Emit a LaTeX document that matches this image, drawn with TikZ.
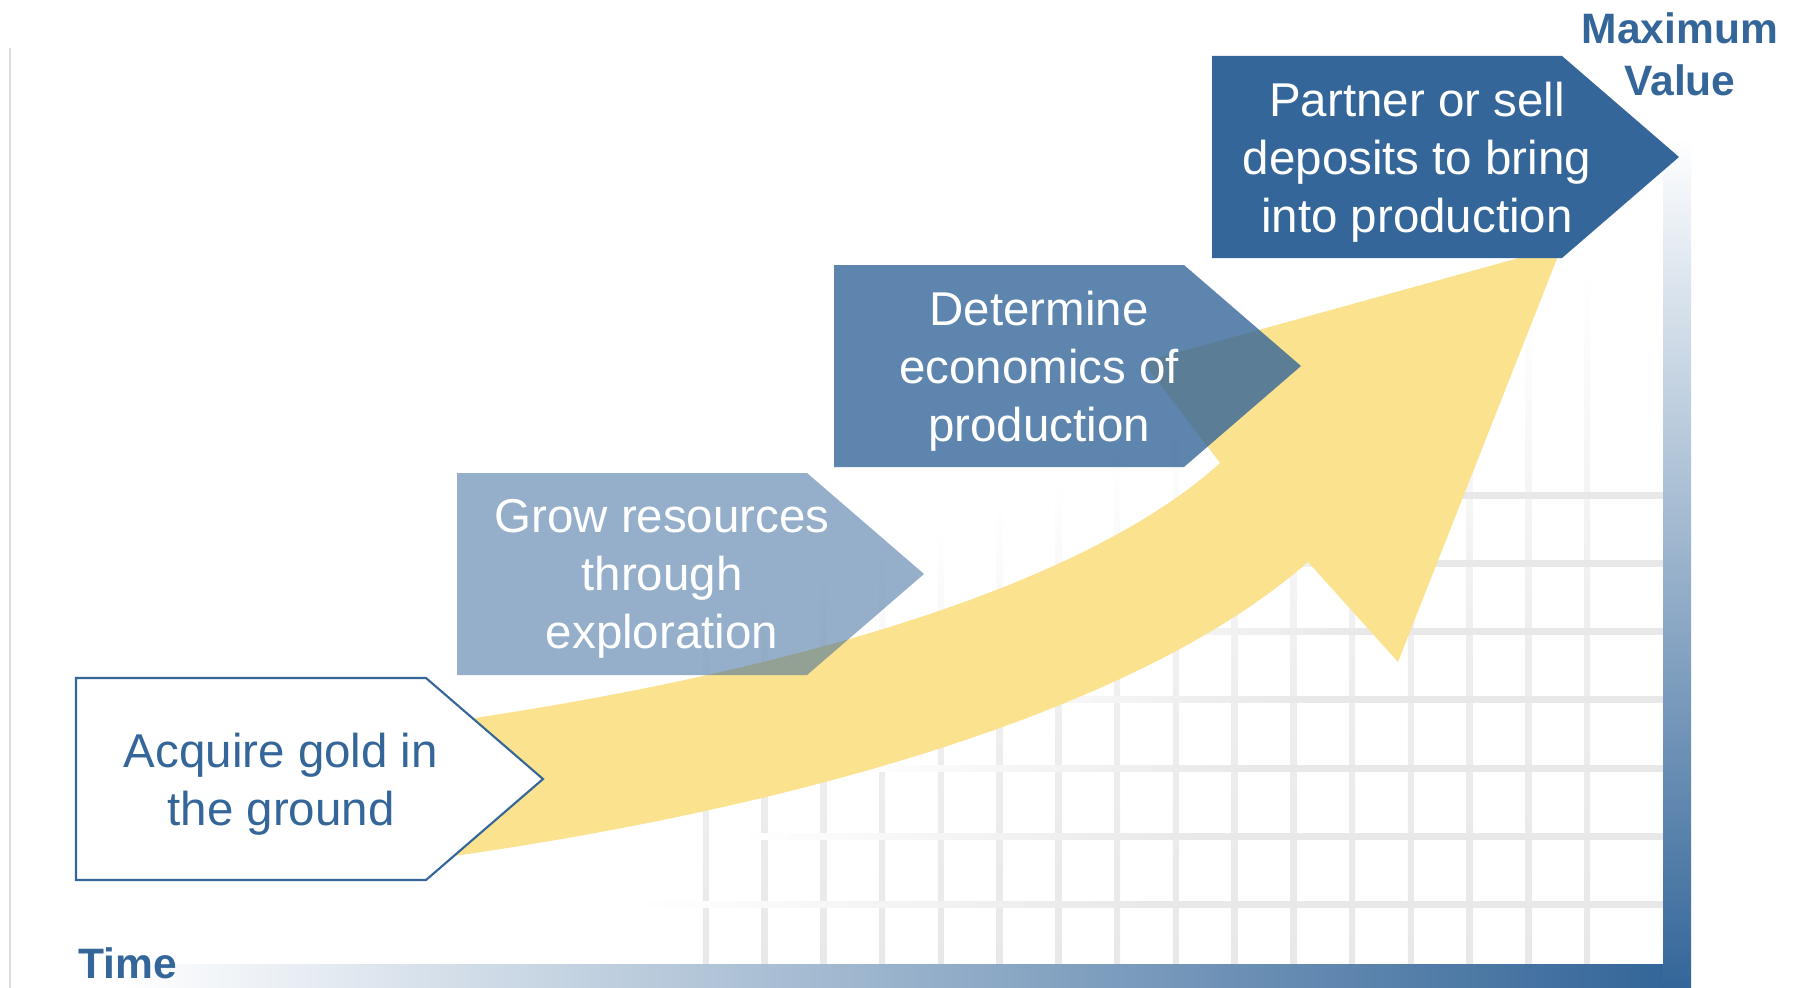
\documentclass[tikz,border=0pt]{standalone}
\usepackage{fontspec}
\setmainfont{Liberation Sans}
\definecolor{dblue}{RGB}{52,102,153}
\definecolor{arrowyellow}{RGB}{250,226,142}
\definecolor{gridgray}{RGB}{232,232,232}
\definecolor{leftgray}{RGB}{220,220,220}
\begin{document}
\begin{tikzpicture}[x=0.01cm,y=-0.01cm,
  boxtext/.style={align=center,inner sep=0pt,font=\fontsize{13.5}{16.5}\selectfont},
  axislabel/.style={align=center,inner sep=0pt,text=dblue,font=\fontsize{12.1}{14.8}\selectfont\bfseries},
  chevron/.style={line join=miter},
  gridv/.style={top color=white,bottom color=gridgray,middle color=gridgray!75!white},
  gridh/.style={left color=white,right color=gridgray,middle color=gridgray}]
\useasboundingbox (0,0) rectangle (1800,988);
% left thin line
\draw[leftgray,line width=0.02cm] (10,48) -- (10,988);
% grid
\foreach \i in {0,...,15}{
  \pgfmathsetmacro\gx{1587-58.75*\i}
  \pgfmathsetmacro\gt{270+(1587-\gx)*0.4}
  \shade[gridv] (\gx-3,\gt) rectangle (\gx+3,964);
}
\foreach \j in {0,...,6}{
  \pgfmathsetmacro\gy{495+68.33*\j}
  \pgfmathsetmacro\gs{1250-(\gy-495)*1.5}
  \shade[gridh] (\gs,\gy-3) rectangle (1663,\gy+3);
}
% axes
\shade[left color=white,right color=dblue] (120,964) rectangle (1663,988);
\shade[top color=white,bottom color=dblue] (1663,137) rectangle (1691,988);
% arrow
\fill[arrowyellow] (440,723) .. controls (773,676) and (1080,590) .. (1220,463)
  -- (1143,362) -- (1562,246) -- (1398,662) -- (1308,562)
  .. controls (1130,718) and (770,812) .. (440,858) -- cycle;
% box 1
\filldraw[chevron,fill=white,draw=dblue,line width=0.6pt]
  (76,678) -- (426,678) -- (543,779) -- (426,880) -- (76,880) -- cycle;
\node[boxtext,text=dblue] (b1) at (281,784) {Acquire gold in\\the ground};
% box 2
\fill[dblue,fill opacity=0.52] (457,473) -- (807,473) -- (924,574) -- (807,675) -- (457,675) -- cycle;
\node[boxtext,text=white] (b2) at (662,579) {Grow resources\\through\\exploration};
% box 3
\fill[dblue,fill opacity=0.8] (834,265) -- (1184,265) -- (1301,366) -- (1184,467) -- (834,467) -- cycle;
\node[boxtext,text=white] (b3) at (1039,371) {Determine\\economics of\\production};
% box 4
\fill[dblue] (1212,56) -- (1562,56) -- (1679,157) -- (1562,258) -- (1212,258) -- cycle;
\node[boxtext,text=white] (b4) at (1417,162) {Partner or sell\\deposits to bring\\into production};
% labels
\node[axislabel] (maxv) at (1680,54) {Maximum\\Value};
\node[axislabel,anchor=base west] (time) at (78,978) {Time};
\end{tikzpicture}
\end{document}
